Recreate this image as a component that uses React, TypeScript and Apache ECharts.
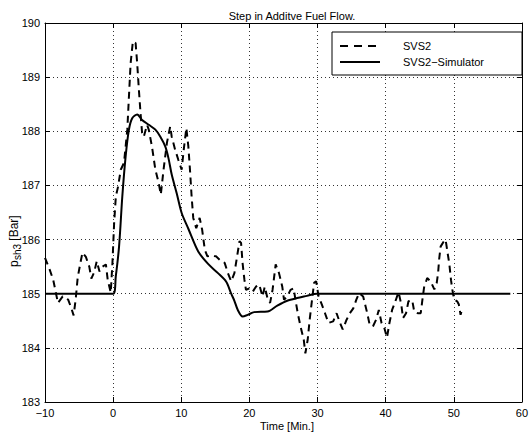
import React, { useEffect, useRef } from "react";
import * as echarts from "echarts";

const titleText = "Step in Additve Fuel Flow.";
const xName = "Time [Min.]";
const legendNames = ["SVS2", "SVS2\u2212Simulator"];

const xTicks = { min: -10, max: 60, interval: 10 };
const yTicks = { min: 183, max: 190, interval: 1 };

const svs2Time = [
  -10, -9.3, -8.8, -8.1, -7.4, -6.6, -6.1, -5.8, -5.5, -5.2, -4.8, -4.5, -4.0, -3.5, -3.2, -2.8, -2.4, -2.0,
  -1.55, -1.06, -0.8, -0.35, -0.1, 0.15, 0.4, 0.73, 1.12, 1.6, 2.08, 2.32, 2.57, 2.9, 3.3, 3.53, 3.78, 4.02,
  4.25, 4.5, 4.98, 5.23, 5.7, 6.2, 6.68, 7.0, 7.4, 7.9, 8.38, 8.6, 9.1, 9.58, 10.06, 10.4, 10.75, 11.04, 11.28,
  11.52, 11.76, 12.2, 12.7, 13.07, 13.46, 13.84, 14.4, 15.1, 15.87, 16.37, 16.85, 17.33, 17.8, 18.2, 18.55,
  18.78, 19.0, 19.27, 19.5, 20.0, 20.5, 20.96, 21.45, 21.93, 22.26, 22.65, 23.04, 23.4, 23.86, 24.35, 24.83,
  25.08, 25.56, 26.04, 26.5, 26.76, 27.1, 27.5, 27.98, 28.22, 28.56, 28.85, 29.2, 29.5, 29.8, 30.16, 30.64,
  31.1, 31.6, 32.3, 32.8, 33.3, 33.7, 34.27, 34.75, 35.25, 35.7, 36.1, 36.7, 37.3, 37.65, 38.15, 38.6, 39.0,
  39.4, 39.8, 40.2, 40.56, 40.95, 41.4, 41.9, 42.3, 42.55, 43.0, 43.35, 43.9, 44.2, 44.7, 45.15, 45.4, 45.65,
  46.1, 46.6, 47.15, 47.5, 47.7, 47.85, 48.07, 48.55, 48.8, 49.1, 49.35, 49.6, 49.8, 50.05, 50.5, 50.75, 51.0,
  51.2,
];
const svs2Value = [
  185.66, 185.44, 185.26, 184.83, 184.95, 184.89, 184.72, 184.6, 184.89, 185.3, 185.57, 185.76, 185.68, 185.5,
  185.28, 185.39, 185.6, 185.41, 185.5, 185.54, 185.26, 185.02, 185.57, 186.31, 186.8, 186.98, 187.29, 187.42,
  188.03, 188.64, 189.26, 189.66, 189.63, 189.26, 188.77, 188.34, 187.97, 187.9, 188.12, 188.03, 187.72, 187.29,
  187.05, 186.83, 187.29, 187.79, 188.09, 187.9, 187.66, 187.47, 187.29, 187.7, 188.06, 187.72, 187.29, 186.8,
  186.4, 186.21, 186.4, 186.18, 185.81, 185.69, 185.7, 185.69, 185.6, 185.57, 185.38, 185.23, 185.38, 185.69,
  185.97, 185.94, 185.57, 185.26, 185.07, 185.1, 185.04, 185.13, 185.17, 184.95, 185.13, 184.92, 184.83, 185.07,
  185.54, 185.38, 185.13, 184.89, 184.95, 185.07, 185.1, 184.89, 184.64, 184.4, 184.15, 183.9, 184.15, 184.52,
  184.89, 185.2, 185.23, 184.95, 184.8, 184.64, 184.46, 184.49, 184.64, 184.46, 184.34, 184.52, 184.64, 184.73,
  184.89, 185.01, 184.95, 184.64, 184.43, 184.4, 184.52, 184.7, 184.46, 184.37, 184.19, 184.46, 184.7, 184.85,
  185.03, 184.8, 184.55, 184.64, 184.86, 184.88, 184.67, 184.64, 184.64, 184.89, 185.12, 185.29, 185.23, 185.08,
  185.2, 185.38, 185.63, 185.87, 185.97, 186.0, 185.75, 185.55, 185.25, 185.07, 184.89, 184.86, 184.8, 184.61,
  184.7,
];

const simTime = [
  -10, 0, 0.39, 0.87, 1.35, 1.84, 2.32, 2.8, 3.53, 4.25, 5.23, 6.2, 6.93, 7.65, 8.13, 8.6, 9.34, 10.06, 11.04,
  12.49, 13.94, 15.39, 16.6, 17.33, 17.8, 18.3, 19.0, 19.75, 20.7, 22.65, 24.1, 25.56, 27.0, 28.45, 29.9, 58.3,
];
const simValue = [
  185, 185, 185.32, 185.87, 186.8, 187.54, 188.03, 188.24, 188.31, 188.21, 188.12, 188.03, 187.9, 187.72, 187.5,
  187.2, 186.85, 186.49, 186.2, 185.78, 185.55, 185.38, 185.22, 185.0, 184.87, 184.7, 184.58, 184.61, 184.66,
  184.67, 184.78, 184.87, 184.92, 184.96, 185.0, 185,
];

const FONT = "'Liberation Sans', Arial, Helvetica, sans-serif";

export default function App() {
  const ref = useRef<HTMLDivElement>(null);
  useEffect(() => {
    if (!ref.current) return;
    const chart = echarts.init(ref.current, undefined, { renderer: "svg" });
    const svs2Data = svs2Time.map((t, i) => [t, svs2Value[i]]);
    const simData = simTime.map((t, i) => [t, simValue[i]]);
    const fmtX = (v: number) => (v < 0 ? "\u2212" + Math.abs(v) : String(v));
    const axisLine = { show: true, onZero: false, lineStyle: { color: "#000", width: 1 } };
    const tick = { show: true, inside: true, length: 5, lineStyle: { color: "#000", width: 1 } };
    const split = { show: true, lineStyle: { color: "#333", type: [1, 3], width: 1 } };
    const lbl = { color: "#000", fontSize: 11, fontFamily: FONT, margin: 5 };
    chart.setOption({
      animation: false,
      textStyle: { fontFamily: FONT },
      title: {
        text: titleText,
        left: 287,
        top: 5,
        textAlign: "center",
        textStyle: { fontSize: 11, fontWeight: "normal", color: "#000", fontFamily: FONT },
      },
      grid: { left: 45, right: 4, top: 23, bottom: 30 },
      xAxis: [
        {
          type: "value", position: "bottom", ...xTicks,
          axisLine, axisTick: tick, splitLine: split,
          axisLabel: { ...lbl, formatter: fmtX },
        },
        {
          type: "value", position: "top", ...xTicks,
          axisLine, axisTick: tick, splitLine: { show: false },
          axisLabel: { show: false },
        },
      ],
      yAxis: [
        {
          type: "value", position: "left", ...yTicks,
          axisLine, axisTick: tick, splitLine: split,
          axisLabel: { ...lbl },
        },
        {
          type: "value", position: "right", ...yTicks,
          axisLine, axisTick: tick, splitLine: { show: false },
          axisLabel: { show: false },
        },
      ],
      series: [
        {
          type: "line", name: legendNames[0], data: svs2Data, symbol: "none",
          lineStyle: { color: "#000", width: 2, type: [7, 5] },
        },
        {
          type: "line", name: legendNames[1], data: simData, symbol: "none", smooth: 0.3,
          lineStyle: { color: "#000", width: 2 },
        },
      ],
      graphic: [
        {
          type: "rect", z: 100,
          shape: { x: 332, y: 32, width: 190, height: 43 },
          style: { fill: "#fff", stroke: "#000", lineWidth: 1 },
        },
        {
          type: "line", z: 101,
          shape: { x1: 340, y1: 46, x2: 380, y2: 46 },
          style: { stroke: "#000", lineWidth: 2, lineDash: [8, 6] },
        },
        {
          type: "line", z: 101,
          shape: { x1: 340, y1: 62, x2: 380, y2: 62 },
          style: { stroke: "#000", lineWidth: 2 },
        },
        {
          type: "text", z: 101, x: 403, y: 46,
          style: { text: legendNames[0], fill: "#000", fontSize: 11, fontFamily: FONT, verticalAlign: "middle", align: "left" },
        },
        {
          type: "text", z: 101, x: 403, y: 62,
          style: { text: legendNames[1], fill: "#000", fontSize: 11, fontFamily: FONT, verticalAlign: "middle", align: "left" },
        },
        {
          type: "text", x: 287, y: 426,
          style: { text: xName, fill: "#000", fontSize: 11, fontFamily: FONT, verticalAlign: "middle", align: "center" },
        },
        {
          type: "group", x: 14, y: 267, rotation: Math.PI / 2,
          children: [
            { type: "text", x: 0, y: 0, style: { text: "p", fill: "#000", fontSize: 12, fontFamily: FONT, verticalAlign: "middle", align: "left" } },
            { type: "text", x: 7, y: 3.5, style: { text: "sh3", fill: "#000", fontSize: 10, fontFamily: FONT, verticalAlign: "middle", align: "left" } },
            { type: "text", x: 23, y: 0, style: { text: " [Bar]", fill: "#000", fontSize: 12, fontFamily: FONT, verticalAlign: "middle", align: "left" } },
          ],
        },
      ],
    });
    return () => chart.dispose();
  }, []);
  return <div ref={ref} style={{ position: "absolute", left: 0, top: 0, width: 531, height: 432 }} />;
}
